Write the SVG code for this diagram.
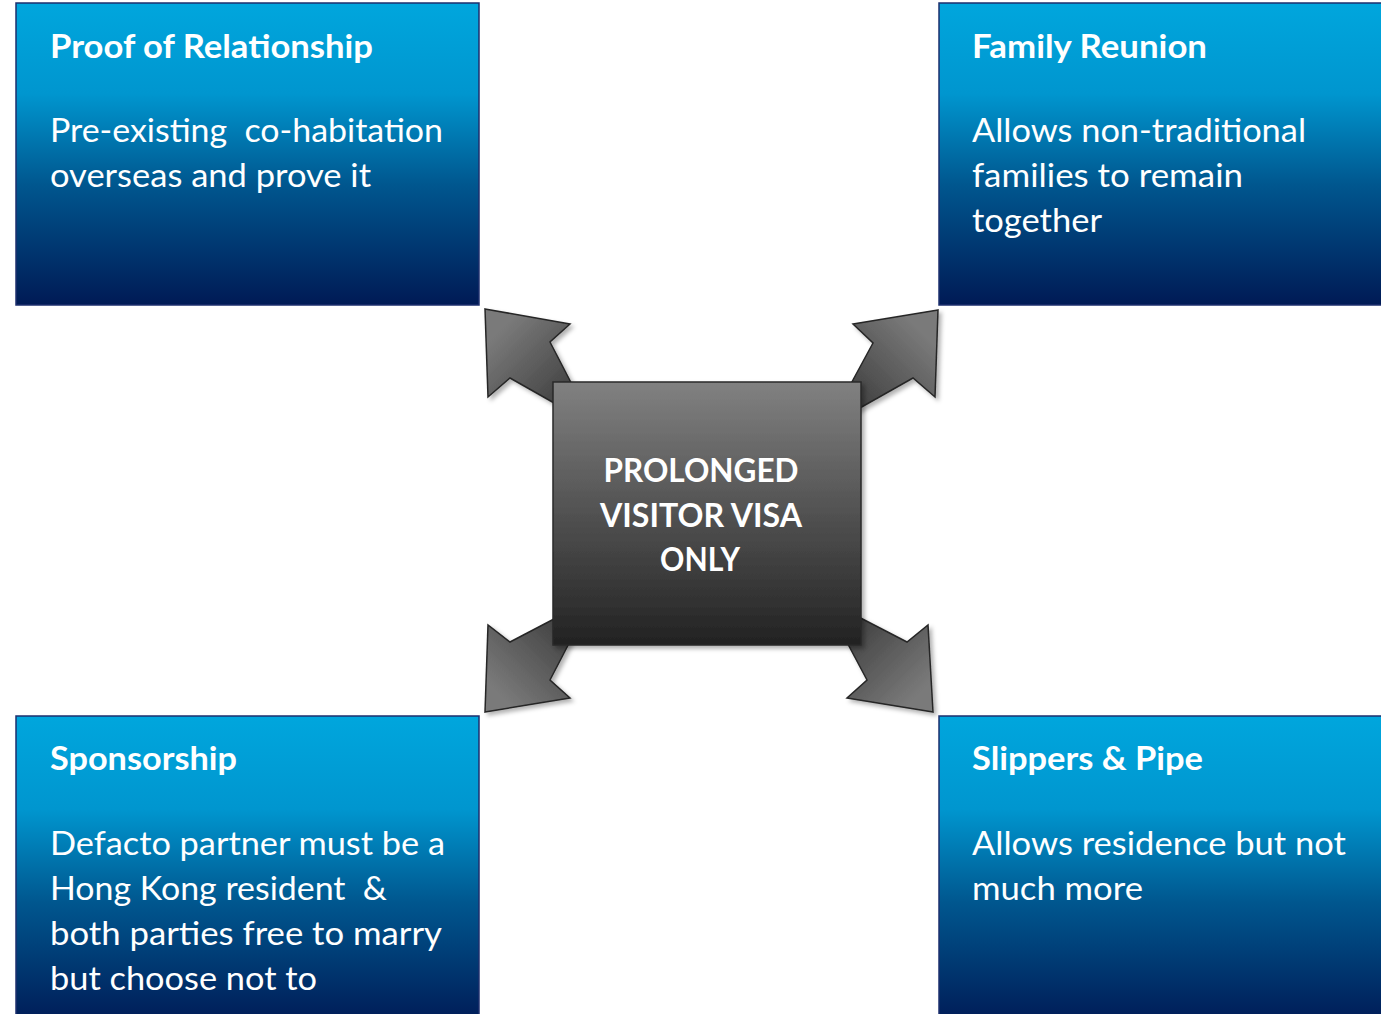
<svg xmlns="http://www.w3.org/2000/svg" width="1381" height="1014" viewBox="0 0 1381 1014">
<style>
.box{stroke:#1c2f6e;stroke-width:1.5;fill:url(#blue)}
.title{font-family:Lato,"Open Sans","Liberation Sans",sans-serif;font-weight:bold;font-size:33px;fill:#ffffff}
.body{font-family:Lato,"Open Sans","Liberation Sans",sans-serif;font-size:33px;fill:#ffffff;white-space:pre}
.ctext{font-family:Lato,"Open Sans","Liberation Sans",sans-serif;font-weight:bold;font-size:33px;fill:#ffffff;text-anchor:middle}
.arrow{stroke:#262626;stroke-width:1.5;stroke-linejoin:miter;filter:url(#shadow)}
</style>
<defs>
<linearGradient id="blue" x1="0" y1="0" x2="0" y2="1">
<stop offset="0" stop-color="#00a6dd"/>
<stop offset="0.3" stop-color="#0096cf"/>
<stop offset="0.6" stop-color="#00578f"/>
<stop offset="1" stop-color="#001a55"/>
</linearGradient>
<linearGradient id="grey" x1="0" y1="0" x2="0" y2="1">
<stop offset="0" stop-color="#818181"/>
<stop offset="1" stop-color="#222222"/>
</linearGradient>
<linearGradient id="gTL" gradientUnits="userSpaceOnUse" x1="500" y1="330" x2="585" y2="415">
<stop offset="0" stop-color="#7a7a7a"/>
<stop offset="1" stop-color="#333333"/>
</linearGradient>
<linearGradient id="gTR" gradientUnits="userSpaceOnUse" x1="920" y1="330" x2="835" y2="415">
<stop offset="0" stop-color="#7a7a7a"/>
<stop offset="1" stop-color="#333333"/>
</linearGradient>
<linearGradient id="gBL" gradientUnits="userSpaceOnUse" x1="500" y1="695" x2="585" y2="610">
<stop offset="0" stop-color="#7a7a7a"/>
<stop offset="1" stop-color="#333333"/>
</linearGradient>
<linearGradient id="gBR" gradientUnits="userSpaceOnUse" x1="918" y1="695" x2="833" y2="610">
<stop offset="0" stop-color="#7a7a7a"/>
<stop offset="1" stop-color="#333333"/>
</linearGradient>
<filter id="shadow" x="-20%" y="-20%" width="140%" height="140%">
<feDropShadow dx="3" dy="3" stdDeviation="2" flood-color="#000000" flood-opacity="0.3"/>
</filter>
</defs>
<rect width="1381" height="1014" fill="#ffffff"/>

<g id="connectors">
<polygon class="arrow" fill="url(#gTL)" points="485,309 570,324 550,342 593,425 510,378 488,397"/>
<polygon class="arrow" fill="url(#gTR)" points="938,310 853,324 873,343 828,426 913,378 935,397"/>
<polygon class="arrow" fill="url(#gBL)" points="485,712 570,698 550,680 592,599 510,642 488,625"/>
<polygon class="arrow" fill="url(#gBR)" points="933,712 847,698 867,680 824,599 907,642 928,625"/>
</g>

<g id="center">
<rect x="553" y="382" width="308" height="263" fill="url(#grey)" stroke="#2a2a2a" stroke-width="1.5" filter="url(#shadow)"/>
<text class="ctext" x="701" y="482" textLength="195" lengthAdjust="spacingAndGlyphs">PROLONGED</text>
<text class="ctext" x="701" y="527" textLength="202" lengthAdjust="spacingAndGlyphs">VISITOR VISA</text>
<text class="ctext" x="700" y="571" textLength="80" lengthAdjust="spacingAndGlyphs">ONLY</text>
</g>

<g id="proof">
<rect class="box" x="16" y="3" width="463" height="302"/>
<text class="title" x="50" y="58" textLength="323" lengthAdjust="spacingAndGlyphs">Proof of Relationship</text>
<text class="body" x="50" y="142" textLength="393" lengthAdjust="spacingAndGlyphs">Pre-existing  co-habitation</text>
<text class="body" x="50" y="187" textLength="321" lengthAdjust="spacingAndGlyphs">overseas and prove it</text>
</g>

<g id="family">
<rect class="box" x="939" y="3" width="450" height="302"/>
<text class="title" x="972" y="58" textLength="235" lengthAdjust="spacingAndGlyphs">Family Reunion</text>
<text class="body" x="972" y="142" textLength="334" lengthAdjust="spacingAndGlyphs">Allows non-traditional</text>
<text class="body" x="972" y="187" textLength="271" lengthAdjust="spacingAndGlyphs">families to remain</text>
<text class="body" x="972" y="232" textLength="130" lengthAdjust="spacingAndGlyphs">together</text>
</g>

<g id="sponsorship">
<rect class="box" x="16" y="716" width="463" height="310"/>
<text class="title" x="50" y="770" textLength="187" lengthAdjust="spacingAndGlyphs">Sponsorship</text>
<text class="body" x="50" y="855" textLength="395" lengthAdjust="spacingAndGlyphs">Defacto partner must be a</text>
<text class="body" x="50" y="900" textLength="337" lengthAdjust="spacingAndGlyphs">Hong Kong resident  &amp;</text>
<text class="body" x="50" y="945" textLength="392" lengthAdjust="spacingAndGlyphs">both parties free to marry</text>
<text class="body" x="50" y="990" textLength="267" lengthAdjust="spacingAndGlyphs">but choose not to</text>
</g>

<g id="slippers">
<rect class="box" x="939" y="716" width="450" height="310"/>
<text class="title" x="972" y="770" textLength="231" lengthAdjust="spacingAndGlyphs">Slippers &amp; Pipe</text>
<text class="body" x="972" y="855" textLength="374" lengthAdjust="spacingAndGlyphs">Allows residence but not</text>
<text class="body" x="972" y="900" textLength="171" lengthAdjust="spacingAndGlyphs">much more</text>
</g>
</svg>
